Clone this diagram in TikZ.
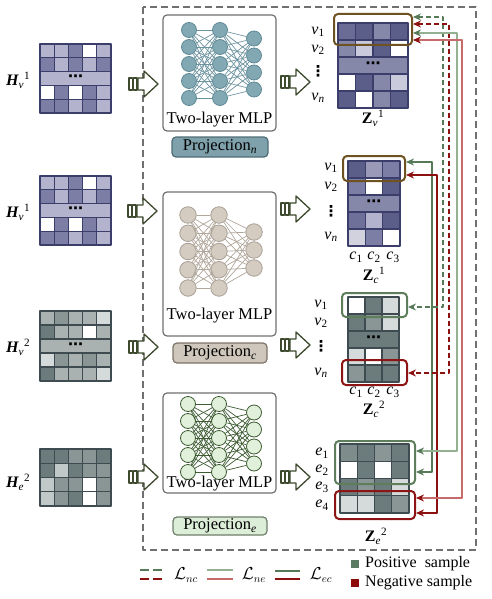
\documentclass[tikz,border=0pt]{standalone}
\usepackage{fontspec}
\setmainfont{Liberation Serif}
\newfontfamily\djv{DejaVu Sans}
\usetikzlibrary{arrows.meta}

\definecolor{pb}{HTML}{3B3D6B}
\definecolor{p1}{HTML}{5C5E8A}
\definecolor{p2}{HTML}{7C7EA5}
\definecolor{p3}{HTML}{8688AA}
\definecolor{p4}{HTML}{9A9AB8}
\definecolor{p5}{HTML}{B3B3CD}
\definecolor{p6}{HTML}{C9CADB}
\definecolor{p7}{HTML}{D2D2DE}
\definecolor{p8}{HTML}{6A6C96}
\definecolor{p9}{HTML}{6E709A}
\definecolor{gb}{HTML}{3E4C52}
\definecolor{g1}{HTML}{6C7C7C}
\definecolor{g2}{HTML}{8A9696}
\definecolor{g3}{HTML}{A9B1B1}
\definecolor{g4}{HTML}{C0C8C8}
\definecolor{g5}{HTML}{D5DBDB}
\definecolor{g6}{HTML}{7F8C8C}
\definecolor{boxg}{HTML}{707070}
\definecolor{olv}{HTML}{3D4A2E}
\definecolor{tFill}{HTML}{82A8B3}
\definecolor{tDraw}{HTML}{5F8A96}
\definecolor{tEdge}{HTML}{6C93A0}
\definecolor{tProj}{HTML}{7EA1AB}
\definecolor{tProjD}{HTML}{4F6D76}
\definecolor{bFill}{HTML}{D4CCC1}
\definecolor{bDraw}{HTML}{A89F94}
\definecolor{bEdge}{HTML}{B0A69A}
\definecolor{bProj}{HTML}{CFC7BC}
\definecolor{bProjD}{HTML}{7D7468}
\definecolor{eFill}{HTML}{E0F0DA}
\definecolor{eDraw}{HTML}{3D5C32}
\definecolor{eEdge}{HTML}{3D5C32}
\definecolor{eProj}{HTML}{DDEED8}
\definecolor{eProjD}{HTML}{6E7F68}
\definecolor{gD}{HTML}{567A58}
\definecolor{rD}{HTML}{8C1010}
\definecolor{gP}{HTML}{93B090}
\definecolor{rP}{HTML}{C86A6A}
\definecolor{brn}{HTML}{6F5222}
\definecolor{grnbox}{HTML}{5E7E5B}
\definecolor{redbox}{HTML}{8C1414}
\definecolor{sqG}{HTML}{5B7A62}
\definecolor{sqR}{HTML}{8C0A0A}

% #1 x0, #2 y0, #3 cell w, #4 cell h, #5 border, #6 rows
\newcommand{\drawmat}[6]{%
  \foreach \row [count=\r from 0] in {#6}{%
    \foreach \cc [count=\c from 0] in \row {%
      \filldraw[draw=#5, line width=1.3pt, fill=\cc] ({#1+\c*#3},{#2+\r*#4}) rectangle ++(#3,#4);
    }}}
% #1 name, #2 x0, #3 y0, #4 w, #5 h, #6 fill, #7 border
\newcommand{\mergedrow}[7]{%
  \filldraw[draw=#7, line width=1.3pt, fill=#6] (#2,#3) rectangle ++(#4,#5);
  \node[inner sep=0pt, font=\djv\bfseries\fontsize{15}{15}\selectfont] (#1) at ({#2+#4/2},{#3+#5/2}) {⋯};}
\newcommand{\myblockarrow}[2]{%
  \begin{scope}[shift={(#1,#2)}]
    \draw[blkst] (0,-6) rectangle (3.4,6);
    \draw[blkst] (4.4,-6) rectangle (8,6);
    \draw[blkst] (9,-6) -- (15,-6) -- (15,-13) -- (29,0) -- (15,13) -- (15,6) -- (9,6) -- cycle;
  \end{scope}}

\begin{document}
\begin{tikzpicture}[x=1pt,y=-1pt,line join=round,
  lab/.style={font=\fontsize{16}{19}\selectfont, inner sep=0pt},
  vd/.style={font=\djv\bfseries\fontsize{15}{15}\selectfont, inner sep=0pt},
  mlptxt/.style={font=\fontsize{16.5}{19}\selectfont, inner sep=0pt},
  mlpbox/.style={draw=boxg, line width=1.2pt, rounded corners=4pt},
  projbox/.style={rectangle, line width=1.2pt, rounded corners=4pt, minimum width=95pt, minimum height=20pt, inner sep=0pt, font=\fontsize{16.5}{19}\selectfont},
  blkst/.style={draw=olv, fill=white, line width=1.3pt},
  neuT/.style={circle, minimum size=15pt, inner sep=0pt, fill=tFill, draw=tDraw, line width=0.8pt},
  neuB/.style={circle, minimum size=16.5pt, inner sep=0pt, fill=bFill, draw=bDraw, line width=0.8pt},
  neuE/.style={circle, minimum size=15pt, inner sep=0pt, fill=eFill, draw=eDraw, line width=0.8pt},
  edgeT/.style={draw=tEdge, line width=0.7pt},
  edgeB/.style={draw=bEdge, line width=0.7pt},
  edgeE/.style={draw=eEdge, line width=0.7pt},
  hl/.style={rectangle, rounded corners=4pt, line width=2pt, inner sep=0pt},
  ncp/.style={draw=gD, line width=1.8pt, dash pattern=on 5pt off 3pt, {Stealth[length=8pt,width=7pt]}-{Stealth[length=8pt,width=7pt]}},
  ncn/.style={draw=rD, line width=1.8pt, dash pattern=on 5pt off 3pt, {Stealth[length=8pt,width=7pt]}-{Stealth[length=8pt,width=7pt]}},
  nep/.style={draw=gP, line width=2pt, {Stealth[length=8pt,width=7pt,color=gD]}-{Stealth[length=8pt,width=7pt,color=gD]}},
  nen/.style={draw=rP, line width=2pt, {Stealth[length=8pt,width=7pt,color=rD]}-{Stealth[length=8pt,width=7pt,color=rD]}},
  ecp/.style={draw=gD, line width=1.8pt, {Stealth[length=8pt,width=7pt]}-{Stealth[length=8pt,width=7pt]}},
  ecn/.style={draw=rD, line width=1.8pt, {Stealth[length=8pt,width=7pt]}-{Stealth[length=8pt,width=7pt]}}]
\useasboundingbox (0,0) rectangle (492,599);

% outer dashed frame
\draw[draw=boxg, line width=1.4pt, dash pattern=on 7pt off 4pt] (143,7) rectangle (476,550);

% ---------- left input matrices ----------
\drawmat{40}{44}{14.2}{13.8}{pb}{{p5,p5,p2,white,p5},{p2,p5,p2,p5,p2},{p5,p5,p5,p5,p5},{white,p2,white,p2,p5},{p2,p2,p5,p2,p5}}
\mergedrow{d1}{40}{71.6}{71}{13.8}{p5}{pb}
\drawmat{40}{176}{14.2}{13.8}{pb}{{p5,p5,p2,white,p5},{p2,p5,p2,p5,p2},{p5,p5,p5,p5,p5},{white,p2,white,p2,p5},{p2,p2,p5,p2,p5}}
\mergedrow{d2}{40}{203.6}{71}{13.8}{p5}{pb}
\drawmat{40}{311}{14.2}{14}{gb}{{g3,g2,g3,g3,g5},{g1,g3,g3,white,g3},{g3,g3,g3,g3,g3},{g5,g2,g3,g2,g3},{g1,g3,g3,g3,g5}}
\mergedrow{d3}{40}{339}{71}{14}{g3}{gb}
\drawmat{40}{449}{14.2}{14.25}{gb}{{g1,g1,g2,g2,g1},{g1,g4,g1,g2,g2},{g4,g2,g2,white,g2},{g4,g2,g1,white,g2}}

\node[lab, anchor=west] (hv1a) at (6,80) {{\bfseries\itshape H}\textsubscript{\itshape v}\textsuperscript{1}};
\node[lab, anchor=west] (hv1b) at (6,212) {{\bfseries\itshape H}\textsubscript{\itshape v}\textsuperscript{1}};
\node[lab, anchor=west] (hv2) at (6,347) {{\bfseries\itshape H}\textsubscript{\itshape v}\textsuperscript{2}};
\node[lab, anchor=west] (he2) at (6,482) {{\bfseries\itshape H}\textsubscript{\itshape e}\textsuperscript{2}};

% block arrows
\myblockarrow{129}{84}
\myblockarrow{128}{211}
\myblockarrow{129}{347}
\myblockarrow{129}{477}
\myblockarrow{281}{82}
\myblockarrow{281}{209}
\myblockarrow{281}{345}
\myblockarrow{281}{477}

% ---------- MLP boxes ----------
\draw[mlpbox] (163,15) rectangle (276,131);
\draw[mlpbox] (163,192) rectangle (276,336);
\draw[mlpbox] (163,393) rectangle (276,493);

% net n (teal)
\foreach \i in {1,...,5}{
  \node[neuT] (na\i) at (189,{30+(\i-1)*17}) {};
  \node[neuT] (nb\i) at (220,{30+(\i-1)*17}) {};}
\foreach \i in {1,...,4} \node[neuT] (nc\i) at (254,{38.5+(\i-1)*17}) {};
\foreach \i in {1,...,5}{
  \foreach \j in {1,...,5} \draw[edgeT] (na\i) -- (nb\j);
  \foreach \j in {1,...,4} \draw[edgeT] (nb\i) -- (nc\j);}

% net c (beige)
\foreach \i in {1,...,5}{
  \node[neuB] (ca\i) at (188,{215+(\i-1)*18.25}) {};
  \node[neuB] (cb\i) at (219,{215+(\i-1)*18.25}) {};}
\foreach \i in {1,...,3} \node[neuB] (cc\i) at (254,{232+(\i-1)*18}) {};
\foreach \i in {1,...,5}{
  \foreach \j in {1,...,5} \draw[edgeB] (ca\i) -- (cb\j);
  \foreach \j in {1,...,3} \draw[edgeB] (cb\i) -- (cc\j);}

% net e (green)
\foreach \i in {1,...,5}{
  \node[neuE] (ea\i) at (188,{404+(\i-1)*17}) {};
  \node[neuE] (eb\i) at (219,{404+(\i-1)*17}) {};}
\foreach \i in {1,...,4} \node[neuE] (ec\i) at (254,{412.5+(\i-1)*17}) {};
\foreach \i in {1,...,5}{
  \foreach \j in {1,...,5} \draw[edgeE] (ea\i) -- (eb\j);
  \foreach \j in {1,...,4} \draw[edgeE] (eb\i) -- (ec\j);}

\node[mlptxt] (mlp1) at (219.5,120) {Two-layer MLP};
\node[mlptxt] (mlp2) at (219.5,316) {Two-layer MLP};
\node[mlptxt] (mlp3) at (219.5,484) {Two-layer MLP};

\node[projbox, fill=tProj, draw=tProjD, minimum width=96pt] (pn) at (220,147) {Projection\textsubscript{\itshape n}};
\node[projbox, fill=bProj, draw=bProjD, minimum width=94pt] (pc) at (220,353) {Projection\textsubscript{\itshape c}};
\node[projbox, fill=eProj, draw=eProjD, minimum width=94pt, minimum height=18pt] (pe) at (220,526) {Projection\textsubscript{\itshape e}};

% ---------- output matrices ----------
\drawmat{338}{23}{17.5}{17}{pb}{{p8,p1,p3,p1},{p3,p6,p1,white},{p3,p3,p3,p3},{white,p1,p3,p6},{p1,white,p3,p1}}
\mergedrow{d4}{338}{57}{70}{17}{p3}{pb}
\drawmat{348}{161}{17.3}{17}{pb}{{p1,p4,p2},{p2,white,p1},{p3,p3,p3},{p9,p5,p1},{p7,p2,white}}
\mergedrow{d5}{348}{195}{51.9}{17}{p3}{pb}
\drawmat{348}{297}{17}{17}{gb}{{white,g1,g5},{g1,g2,g5},{g1,g1,g1},{g5,white,g2},{g2,g1,g1}}
\mergedrow{d6}{348}{331}{51}{17}{g1}{gb}
\drawmat{340}{444}{17.25}{17.25}{gb}{{g6,g1,g2,g1},{white,g1,white,g1},{g1,g2,g1,g5},{g5,g5,g1,g2}}

% row labels
\node[lab] (zv1v1) at (318,32) {\textit{v}\textsubscript{1}};
\node[lab] (zv1v2) at (318,50) {\textit{v}\textsubscript{2}};
\node[vd] (zv1vd) at (318,71) {⋮};
\node[lab] (zv1vn) at (318,98) {\textit{v}\textsubscript{\itshape n}};
\node[lab] (zc1v1) at (331,168) {\textit{v}\textsubscript{1}};
\node[lab] (zc1v2) at (331,187) {\textit{v}\textsubscript{2}};
\node[vd] (zc1vd) at (331,211) {⋮};
\node[lab] (zc1vn) at (331,237) {\textit{v}\textsubscript{\itshape n}};
\node[lab] (zc2v1) at (321,305) {\textit{v}\textsubscript{1}};
\node[lab] (zc2v2) at (321,323) {\textit{v}\textsubscript{2}};
\node[vd] (zc2vd) at (321,346) {⋮};
\node[lab] (zc2vn) at (321,373) {\textit{v}\textsubscript{\itshape n}};
\node[lab] (ze1) at (322,453) {\textit{e}\textsubscript{1}};
\node[lab] (ze2) at (322,470) {\textit{e}\textsubscript{2}};
\node[lab] (ze3) at (322,487) {\textit{e}\textsubscript{3}};
\node[lab] (ze4) at (322,505) {\textit{e}\textsubscript{4}};
% column labels
\node[lab] (c1a) at (356,257) {\textit{c}\textsubscript{1}};
\node[lab] (c2a) at (374,257) {\textit{c}\textsubscript{2}};
\node[lab] (c3a) at (393,257) {\textit{c}\textsubscript{3}};
\node[lab] (c1b) at (356,392) {\textit{c}\textsubscript{1}};
\node[lab] (c2b) at (374,392) {\textit{c}\textsubscript{2}};
\node[lab] (c3b) at (393,392) {\textit{c}\textsubscript{3}};
% matrix names
\node[lab] (zv1) at (373,118) {{\bfseries Z}\textsubscript{\itshape v}\textsuperscript{1}};
\node[lab] (zc1) at (374,275) {{\bfseries Z}\textsubscript{\itshape c}\textsuperscript{1}};
\node[lab] (zc2) at (374,409) {{\bfseries Z}\textsubscript{\itshape c}\textsuperscript{2}};
\node[lab] (ze2lab) at (376,536) {{\bfseries Z}\textsubscript{\itshape e}\textsuperscript{2}};

% highlight boxes
\node[hl, draw=brn, minimum width=78pt, minimum height=31pt] (hzv) at (373,29.5) {};
\node[hl, draw=brn, minimum width=62pt, minimum height=25pt] (hzc1) at (374,168.5) {};
\node[hl, draw=grnbox, minimum width=65pt, minimum height=24pt] (hzc2p) at (374.5,305) {};
\node[hl, draw=redbox, minimum width=65pt, minimum height=25pt] (hzc2n) at (374.5,372.5) {};
\node[hl, draw=grnbox, minimum width=80pt, minimum height=43pt] (hzep) at (375,462.5) {};
\node[hl, draw=redbox, minimum width=80pt, minimum height=28pt] (hzen) at (375,505) {};

% connector end points
\coordinate (a1) at (413,17);
\coordinate (a2) at (413,24);
\coordinate (a3) at (413,33);
\coordinate (a4) at (413,40);
\coordinate (b1) at (406,162);
\coordinate (b2) at (406,175);
\coordinate (c1) at (408,307);
\coordinate (c2) at (408,373);
\coordinate (e1) at (416,451);
\coordinate (e2) at (416,472);
\coordinate (e3) at (416,498);
\coordinate (e4) at (416,513);

\draw[ecp] (b1) -- ++(26,0) |- (e2);
\draw[ecn] (b2) -- ++(31,0) |- (e4);
\draw[ncp] (a1) -- ++(30,0) |- (c1);
\draw[ncn] (a2) -- ++(36,0) |- (c2);
\draw[nep] (a3) -- ++(44,0) |- (e1);
\draw[nen] (a4) -- ++(49,0) |- (e3);

% ---------- legend ----------
\coordinate (l1a) at (140,570); \coordinate (l1b) at (163,570);
\coordinate (l2a) at (140,579); \coordinate (l2b) at (163,579);
\coordinate (l3a) at (207,570); \coordinate (l3b) at (233,570);
\coordinate (l4a) at (207,579); \coordinate (l4b) at (233,579);
\coordinate (l5a) at (275,571); \coordinate (l5b) at (300,571);
\coordinate (l6a) at (275,579); \coordinate (l6b) at (300,579);
\draw[draw=gD, line width=2pt, dash pattern=on 9pt off 4pt] (l1a) -- (l1b);
\draw[draw=rD, line width=2pt, dash pattern=on 9pt off 4pt] (l2a) -- (l2b);
\draw[draw=gP, line width=2.2pt] (l3a) -- (l3b);
\draw[draw=rP, line width=2.2pt] (l4a) -- (l4b);
\draw[draw=gD, line width=2pt] (l5a) -- (l5b);
\draw[draw=rD, line width=2pt] (l6a) -- (l6b);
\node[lab] (lnc) at (186,575) {$\mathcal{L}_{nc}$};
\node[lab] (lne) at (254,575) {$\mathcal{L}_{ne}$};
\node[lab] (lec) at (321,575) {$\mathcal{L}_{ec}$};
\node[fill=sqG, minimum size=8pt, inner sep=0pt] (sqp) at (355,564) {};
\node[fill=sqR, minimum size=8pt, inner sep=0pt] (sqn) at (355,583) {};
\node[lab, anchor=west] (tp) at (365,564) {Positive\ \ sample};
\node[lab, anchor=west] (tn) at (365,583) {Negative sample};
\end{tikzpicture}
\end{document}
